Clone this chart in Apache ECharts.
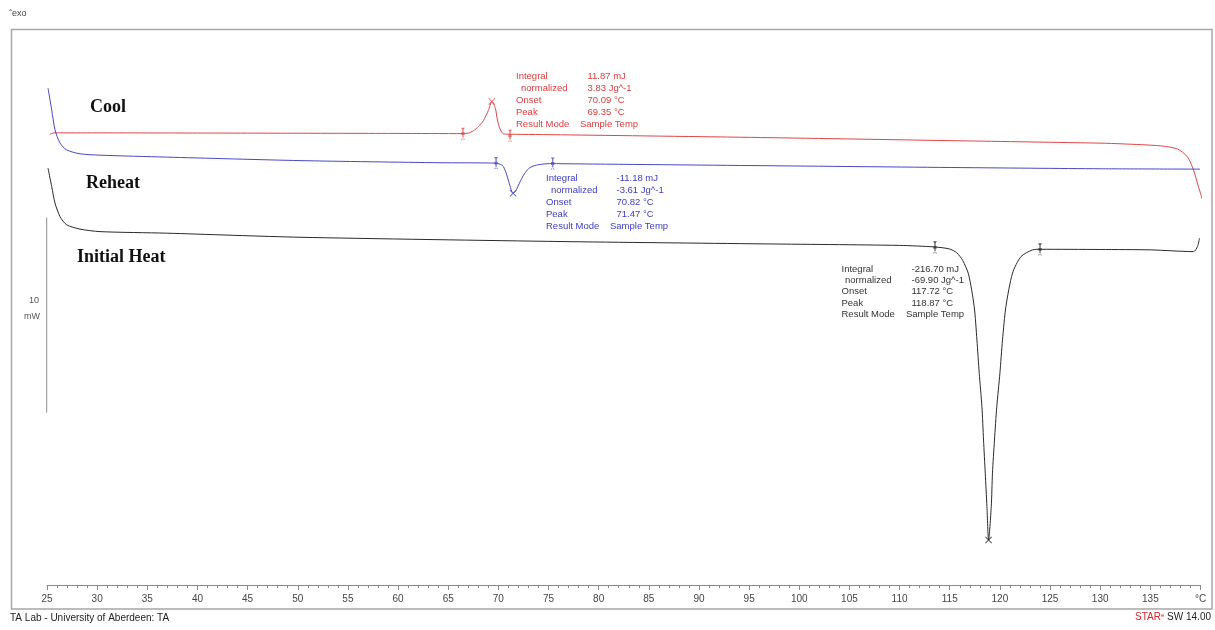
<!DOCTYPE html>
<html><head><meta charset="utf-8">
<script src="https://cdn.jsdelivr.net/npm/echarts@6/dist/echarts.min.js"></script>
<style>html,body{margin:0;padding:0;background:#fff}#c{width:1215px;height:630px}</style>
</head><body><div id="c"></div>
<script>
// ---- data (temperature in °C, heat flow in mW, arbitrary offset) ----
const coolT = [25.3, 25.7, 30, 40, 50, 60, 66.5, 67.0, 67.5, 68.0, 68.5, 69.0, 69.35, 69.7, 69.9, 70.2, 70.5, 71.2, 76.2, 96.1, 116.0, 130.0, 132.3, 136.0, 137.7, 138.7, 139.3, 139.8, 140.2];
const coolY = [23.22, 23.30, 23.30, 23.29, 23.28, 23.27, 23.26, 23.29, 23.40, 23.62, 23.92, 24.45, 24.91, 24.57, 23.97, 23.45, 23.25, 23.23, 23.20, 23.06, 22.89, 22.77, 22.73, 22.63, 22.47, 22.06, 21.39, 20.52, 19.85];

const reheatT = [25.1, 25.47, 25.8, 26.3, 26.96, 28.29, 30.28, 36.93, 50.22, 64.18, 69.77, 70.34, 70.51, 70.84, 71.08, 71.34, 71.47, 71.74, 72.01, 72.34, 72.68, 73.17, 74.0, 75.42, 76.15, 96.09, 116.03, 130, 139.95];
const reheatY = [25.60, 24.48, 23.45, 22.77, 22.42, 22.22, 22.15, 22.05, 21.87, 21.76, 21.74, 21.64, 21.56, 21.13, 20.70, 20.27, 20.19, 20.32, 20.61, 20.96, 21.25, 21.52, 21.66, 21.72, 21.71, 21.61, 21.51, 21.45, 21.43];

const heatT = [25.1, 25.47, 25.8, 26.3, 26.96, 28.29, 30.28, 36.93, 50.22, 76.15, 96.09, 110, 113.5, 114.95, 115.7, 116.3, 116.87, 117.44, 117.71, 117.94, 118.21, 118.37, 118.54, 118.71, 118.87, 119.14, 119.26, 119.46, 119.69, 120.0, 120.26, 120.6, 121.26, 122.1, 123.26, 124.0, 130, 135, 139.3, 139.7, 139.9];
const heatY = [21.48, 20.53, 19.68, 18.98, 18.56, 18.34, 18.21, 18.13, 17.92, 17.70, 17.58, 17.50, 17.42, 17.32, 17.12, 16.72, 16.02, 14.35, 12.63, 10.91, 9.19, 7.47, 5.76, 4.04, 2.32, 4.04, 5.76, 7.47, 9.19, 10.91, 12.63, 14.35, 16.07, 16.92, 17.27, 17.30, 17.29, 17.27, 17.18, 17.44, 17.87];

// integration limits and peaks
const coolLimitT = [66.47, 71.16];   const coolLimitY = [23.26, 23.15];
const reheatLimitT = [69.77, 75.42]; const reheatLimitY = [21.74, 21.72];
const heatLimitT = [113.53, 124.0];  const heatLimitY = [17.40, 17.30];
const coolPeak = [69.35, 24.91];
const reheatPeak = [71.47, 20.19];
const heatPeak = [118.87, 2.32];

// result tables
const coolResults = [['Integral', '11.87 mJ'], ['  normalized', '3.83 Jg^-1'], ['Onset', '70.09 °C'], ['Peak', '69.35 °C'], ['Result Mode', 'Sample Temp']];
const reheatResults = [['Integral', '-11.18 mJ'], ['  normalized', '-3.61 Jg^-1'], ['Onset', '70.82 °C'], ['Peak', '71.47 °C'], ['Result Mode', 'Sample Temp']];
const heatResults = [['Integral', '-216.70 mJ'], ['  normalized', '-69.90 Jg^-1'], ['Onset', '117.72 °C'], ['Peak', '118.87 °C'], ['Result Mode', 'Sample Temp']];

const tickValues = [25, 30, 35, 40, 45, 50, 55, 60, 65, 70, 75, 80, 85, 90, 95, 100, 105, 110, 115, 120, 125, 130, 135, 140];
const tickLabels = ['25', '30', '35', '40', '45', '50', '55', '60', '65', '70', '75', '80', '85', '90', '95', '100', '105', '110', '115', '120', '125', '130', '135', '°C'];
const scaleBar = [8.91, 18.91]; // 10 mW

// ---- helpers ----
const zip = (a, b) => a.map((v, i) => [v, b[i]]);
const RED = '#e04646', BLUE = '#4848c6', BLACK = '#2a2a2a';
const RED_T = '#e03c3c', BLUE_T = '#3c3cc4', BLACK_T = '#333333';
const limitPath = 'path://M-0.6,0 L0.6,0 L0.6,12 L-0.6,12 Z M-2,0 L2,0 L0,2.6 Z M-2,12 L2,12 L0,9.4 Z M-1.6,4.6 L1.6,4.6 L1.6,7.4 L-1.6,7.4 Z';
const crossPath = 'path://M0,1 L1,0 L5,4 L9,0 L10,1 L6,5 L10,9 L9,10 L5,6 L1,10 L0,9 L4,5 Z';

function lineSeries(t, y, color) {
  return { type: 'line', data: zip(t, y), symbol: 'none', smooth: 0.25, clip: false,
    lineStyle: { color: color, width: 1 }, z: 3, silent: true };
}
function limitSeries(t, y, color) {
  return { type: 'scatter', data: zip(t, y), symbol: limitPath, symbolSize: [4, 12],
    itemStyle: { color: color }, z: 4, silent: true };
}
function peakSeries(p, color) {
  return { type: 'scatter', data: [p], symbol: crossPath, symbolSize: 7,
    itemStyle: { color: color, opacity: 0.8 }, z: 4, silent: true };
}
function resultTexts(rows, x0, xn, xv, xs, y0, dy, color) {
  const out = [];
  rows.forEach((r, i) => {
    const y = y0 + i * dy;
    const label = r[0].trim();
    out.push({ type: 'text', left: (i === 1 ? xn : x0), top: y - 6,
      style: { text: label, fill: color, font: '9.5px "Liberation Sans", Arial, sans-serif' }, z: 10 });
    out.push({ type: 'text', left: (i === 4 ? xs : xv), top: y - 6,
      style: { text: r[1], fill: color, font: '9.5px "Liberation Sans", Arial, sans-serif' }, z: 10 });
  });
  return out;
}

const chart = echarts.init(document.getElementById('c'), null, { renderer: 'canvas' });
const titleFont = 'bold 18px "Liberation Serif", "Times New Roman", serif';

const option = {
  animation: false,
  backgroundColor: '#ffffff',
  grid: { left: 47, right: 14.5, top: 30, bottom: 45, containLabel: false, outerBoundsMode: 'none' },
  xAxis: {
    type: 'value', min: 25, max: 140, interval: 5,
    axisLine: { show: true, lineStyle: { color: '#8a8a8a', width: 1 } },
    axisTick: { show: true, inside: false, length: 5, lineStyle: { color: '#8a8a8a' } },
    minorTick: { show: true, splitNumber: 5, length: 3, lineStyle: { color: '#8a8a8a' } },
    splitLine: { show: false },
    axisLabel: { margin: 9, color: '#444', fontSize: 10, fontFamily: '"Liberation Sans", Arial, sans-serif',
      formatter: v => { const i = tickValues.indexOf(v); return i >= 0 ? tickLabels[i] : ''; } }
  },
  yAxis: { type: 'value', min: 0, max: 28.6, show: false, splitLine: { show: false } },
  series: [
    lineSeries(coolT, coolY, RED),
    lineSeries(reheatT, reheatY, BLUE),
    lineSeries(heatT, heatY, BLACK),
    limitSeries(coolLimitT, coolLimitY, RED),
    limitSeries(reheatLimitT, reheatLimitY, BLUE),
    limitSeries(heatLimitT, heatLimitY, BLACK),
    peakSeries(coolPeak, RED),
    peakSeries(reheatPeak, BLUE),
    peakSeries(heatPeak, BLACK),
    { type: 'line', symbol: 'none', clip: false, silent: true,
      data: [[24.58, scaleBar[1]], [24.97, scaleBar[1]], [24.97, scaleBar[0]], [24.58, scaleBar[0]]],
      lineStyle: { color: '#8c8c8c', width: 1 } }
  ],
  graphic: [
    { type: 'rect', shape: { x: 11.5, y: 29.5, width: 1200.5, height: 579.5 },
      style: { fill: 'none', stroke: '#a6a6a6', lineWidth: 1.5 }, z: 1, silent: true },
    { type: 'text', left: 9, top: 9, style: { text: 'ˆexo', fill: '#444', font: '9px "Liberation Sans", Arial, sans-serif' } },
    { type: 'text', left: 90, top: 98, style: { text: 'Cool', fill: '#111', font: titleFont } },
    { type: 'text', left: 86, top: 174, style: { text: 'Reheat', fill: '#111', font: titleFont } },
    { type: 'text', left: 77, top: 248, style: { text: 'Initial Heat', fill: '#111', font: titleFont } },
    { type: 'text', left: 29, top: 296, style: { text: '10', fill: '#555', font: '9px "Liberation Sans", Arial, sans-serif' } },
    { type: 'text', left: 24, top: 312, style: { text: 'mW', fill: '#555', font: '9px "Liberation Sans", Arial, sans-serif' } },
    { type: 'text', left: 10, top: 613, style: { text: 'TA Lab - University of Aberdeen: TA', fill: '#222', font: '10px "Liberation Sans", Arial, sans-serif' } },
    { type: 'text', right: 4, top: 612, style: {
        text: '{r|STAR}{s|e}{k| SW 14.00}',
        rich: {
          r: { fill: '#d8262c', font: '10px "Liberation Sans", Arial, sans-serif' },
          s: { fill: '#d8262c', font: '6px "Liberation Sans", Arial, sans-serif', verticalAlign: 'top', padding: [0, 0, 5, 0] },
          k: { fill: '#222', font: '10px "Liberation Sans", Arial, sans-serif' }
        } } }
  ]
    .concat(resultTexts(coolResults, 516, 521, 587.5, 580, 77, 12.1, RED_T))
    .concat(resultTexts(reheatResults, 546, 551, 616.5, 610, 179.5, 12, BLUE_T))
    .concat(resultTexts(heatResults, 841.5, 845, 911.5, 906, 270, 11.4, BLACK_T))
};
chart.setOption(option);
</script>
</body></html>
